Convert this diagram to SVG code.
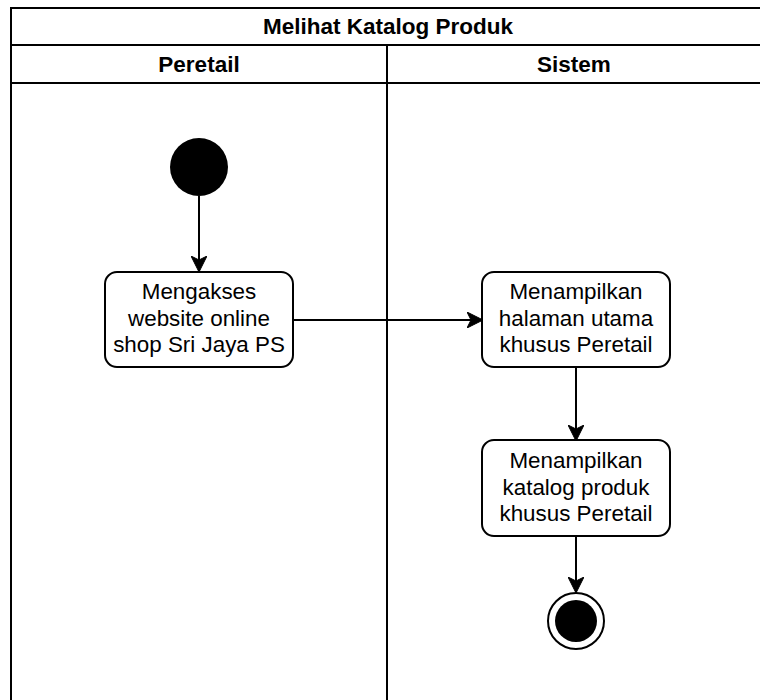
<svg xmlns="http://www.w3.org/2000/svg" width="760" height="700" viewBox="0 0 760 700">
<defs>
<style>
.frame{fill:none;stroke:#000;stroke-width:2}
.hdr{font-family:"Liberation Sans",Arial,sans-serif;font-size:22.5px;font-weight:bold;text-anchor:middle;fill:#000}
.act{fill:#fff;stroke:#000;stroke-width:2}
.lbl{font-family:"Liberation Sans",Arial,sans-serif;font-size:22.4px;text-anchor:middle;fill:#000}
.edge{fill:none;stroke:#000;stroke-width:2}
</style>
<marker id="arr" viewBox="0 0 16 16" refX="15" refY="8" markerWidth="16" markerHeight="16" markerUnits="userSpaceOnUse" orient="auto">
<path d="M0,0 L16,8 L0,16 L4,8 Z" fill="#000" stroke="#000" stroke-width="1"/>
</marker>
</defs>
<rect width="760" height="700" fill="#fff"/>
<g id="pool">
<path class="frame" d="M11,702 V8 H762"/>
<line class="frame" x1="11" y1="45" x2="762" y2="45"/>
<line class="frame" x1="11" y1="83" x2="762" y2="83"/>
<line class="frame" x1="387" y1="45" x2="387" y2="702"/>
<text class="hdr" x="388" y="34">Melihat Katalog Produk</text>
<text class="hdr" x="199" y="72">Peretail</text>
<text class="hdr" x="574" y="72">Sistem</text>
</g>
<g id="connectors">
<line class="edge" x1="199" y1="196" x2="199" y2="271" marker-end="url(#arr)"/>
<line class="edge" x1="293" y1="320" x2="482" y2="320" marker-end="url(#arr)"/>
<line class="edge" x1="576" y1="367" x2="576" y2="440" marker-end="url(#arr)"/>
<line class="edge" x1="576" y1="536" x2="576" y2="592" marker-end="url(#arr)"/>
</g>
<g id="start">
<circle cx="199" cy="167" r="29" fill="#000"/>
</g>
<g id="a1">
<rect class="act" x="105" y="272" width="188" height="95" rx="12"/>
<text class="lbl" x="199" y="299">Mengakses</text>
<text class="lbl" x="199" y="325.5">website online</text>
<text class="lbl" x="199" y="352">shop Sri Jaya PS</text>
</g>
<g id="a2">
<rect class="act" x="482" y="272" width="188" height="95" rx="12"/>
<text class="lbl" x="576" y="299">Menampilkan</text>
<text class="lbl" x="576" y="325.5">halaman utama</text>
<text class="lbl" x="576" y="352">khusus Peretail</text>
</g>
<g id="a3">
<rect class="act" x="482" y="440" width="188" height="96" rx="12"/>
<text class="lbl" x="576" y="468">Menampilkan</text>
<text class="lbl" x="576" y="494.5">katalog produk</text>
<text class="lbl" x="576" y="521">khusus Peretail</text>
</g>
<g id="end">
<circle cx="576" cy="621" r="28" fill="#fff" stroke="#000" stroke-width="2"/>
<circle cx="576" cy="621" r="21" fill="#000"/>
</g>
</svg>
